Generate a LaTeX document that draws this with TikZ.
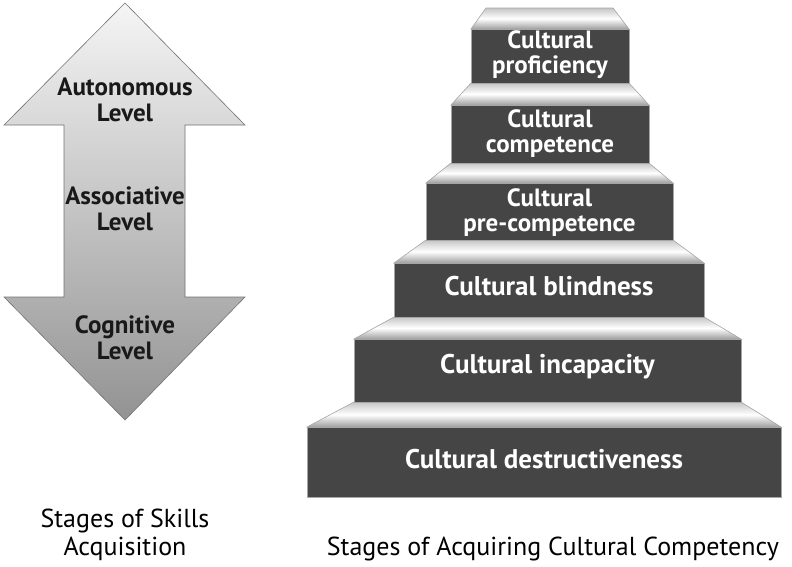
\documentclass[tikz,border=0pt]{standalone}
\usepackage{fontspec}
\setmainfont{PT Sans}
\tikzset{
  stairface/.style={fill=black!73,draw=gray!70,line width=0.6pt},
  stairtop/.style={top color=gray!45,bottom color=gray!75,middle color=white,draw=gray!70,line width=0.6pt},
  steptext/.style={text=white,font=\bfseries\fontsize{27}{26}\selectfont,align=center,inner sep=0pt,anchor=base},
  steptwo/.style={steptext,font=\bfseries\fontsize{25}{25}\selectfont},
  leveltext/.style={text=black!90,font=\bfseries\fontsize{25}{26}\selectfont,align=center,inner sep=0pt,anchor=base},
  captext/.style={font=\fontsize{26}{28}\selectfont,align=center,inner sep=0pt,anchor=base}
}
\begin{document}
\begin{tikzpicture}[x=1pt,y=-1pt]
\useasboundingbox (0,0) rectangle (792,566);
% double arrow
\shadedraw[top color=gray!8,bottom color=gray!85,draw=gray!90!black,line width=0.6pt]
  (125,3) coordinate(tip) -- (245,125) -- (185,125) -- (185,297) -- (245,297)
  -- (125,420) coordinate(bot) -- (4,297) -- (64,297) -- (64,125) -- (4,125) -- cycle;
% base anchor sits on the last line
\node[leveltext] (auto) at (125,121) {Autonomous\\Level};
\node[leveltext] (asso) at (125,230) {Associative\\Level};
\node[leveltext] (cogn) at (125,359) {Cognitive\\Level};
% staircase
\foreach \xl/\xr/\ya/\yb/\tl/\tr/\yt in {
  307/781/427/497/354/741/402,
  354/741/339/402/394/704/317,
  394/704/263/317/426/673/240,
  426/673/183/240/451/649/163,
  451/649/105/163/471/629/83,
  471/629/29/83/486/613/8}{
  \shadedraw[stairtop] (\tl,\yt) -- (\tr,\yt) -- (\xr,\ya) -- (\xl,\ya) -- cycle;
  \filldraw[stairface] (\xl,\ya) rectangle (\xr,\yb);
}
\node[steptwo] (prof) at (550,73) {Cultural\\proficiency};
\node[steptwo] (comp) at (550,152) {Cultural\\competence};
\node[steptwo] (precomp) at (549.5,231) {Cultural\\pre-competence};
\node[steptext] (blind) at (549,295) {Cultural blindness};
\node[steptext] (incap) at (547.5,373) {Cultural incapacity};
\node[steptext] (destr) at (544,468) {Cultural destructiveness};
% captions
\node[captext] (skills) at (125,555) {Stages of Skills\\Acquisition};
\node[captext] (cultcap) at (553,555) {Stages of Acquiring Cultural Competency};
\end{tikzpicture}
\end{document}
